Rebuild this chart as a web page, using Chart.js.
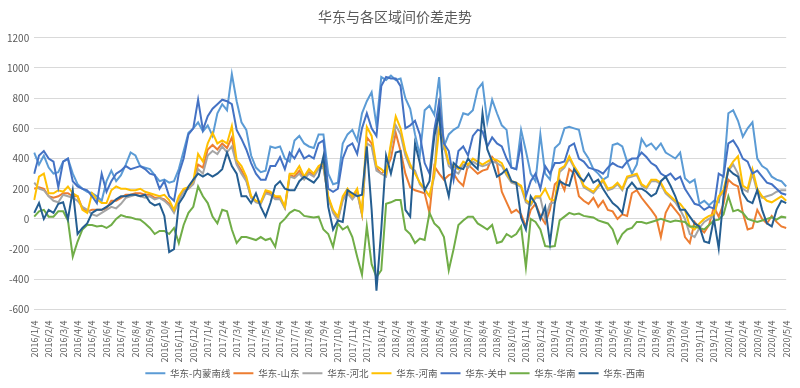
<!DOCTYPE html>
<html>
<head>
<meta charset="utf-8">
<script src="https://cdn.jsdelivr.net/npm/chart.js@4.4.1/dist/chart.umd.min.js"></script>
<style>
  body { margin: 0; background: #fff; }
  #wrap { width: 800px; height: 388px; }
</style>
</head>
<body>
<div id="wrap"><canvas id="spreadChart" width="800" height="388"></canvas></div>
<script>
// tick labels (one per month); the data has three readings per month (4th, 14th, 24th)
var monthLabels = ['2016/1/4','2016/2/4','2016/3/4','2016/4/4','2016/5/4','2016/6/4','2016/7/4','2016/8/4','2016/9/4','2016/10/4','2016/11/4','2016/12/4',
  '2017/1/4','2017/2/4','2017/3/4','2017/4/4','2017/5/4','2017/6/4','2017/7/4','2017/8/4','2017/9/4','2017/10/4','2017/11/4','2017/12/4',
  '2018/1/4','2018/2/4','2018/3/4','2018/4/4','2018/5/4','2018/6/4','2018/7/4','2018/8/4','2018/9/4','2018/10/4','2018/11/4','2018/12/4',
  '2019/1/4','2019/2/4','2019/3/4','2019/4/4','2019/5/4','2019/6/4','2019/7/4','2019/8/4','2019/9/4','2019/10/4','2019/11/4','2019/12/4',
  '2020/1/4','2020/2/4','2020/3/4','2020/4/4','2020/5/4'];
var days = ['4', '14', '24'];

var seriesNames = ['华东-内蒙南线', '华东-山东', '华东-河北', '华东-河南', '华东-关中', '华东-华南', '华东-西南'];

var neimengNanxian = [440,360,420, 340,300,310, 380,400,300, 230,200,180, 170,150,120, 250,320,250, 290,360,440, 420,350,340, 330,290,250, 260,240,250, 330,450,570, 600,640,580,
  620,550,700, 760,720,960, 780,640,590, 420,340,310, 320,480,470, 480,400,380, 520,550,500, 480,470,560, 560,300,230, 240,500,560, 590,520,700, 780,840,620,
  940,920,950, 920,930,800, 730,560,420, 720,750,690, 940,480,560, 590,610,700, 690,720,860, 900,640,790, 700,620,590, 340,330,590, 450,300,250, 560,300,260,
  470,500,600, 610,600,590, 450,400,330, 300,260,280, 490,500,480, 380,300,360, 530,480,500, 460,500,440, 420,400,440, 270,240,260, 100,120,90, 120,110,300,
  700,720,650, 545,600,640, 400,350,330, 280,260,250, 215];

var shandong = [200,210,200, 150,140,150, 170,170,150, 150,70,50, 60,60,60, 70,120,120, 140,160,160, 170,170,160, 160,140,140, 130,100,50, 130,190,200, 240,360,340,
  460,490,460, 500,470,540, 370,320,260, 140,115,105, 180,170,140, 140,75,290, 280,320,270, 310,290,340, 350,140,50, 0,130,180, 140,180,30, 540,500,340,
  300,330,400, 570,450,300, 210,190,180, 170,40,350, 300,260,290, 300,250,220, 360,330,300, 320,330,410, 370,180,110, 40,60,30, -50,60,100, 20,-30,60,
  230,260,190, 330,300,150, 120,100,140, 80,120,60, 50,0,30, 20,170,190, 140,100,60, 15,-120,40, 100,60,20, -120,-160,-20, -60,-90,-40, 80,15,100,
  260,230,215, 40,-70,-60, 60,0,-30, 20,-20,-50, -60];

var hebei = [240,200,190, 150,120,110, 160,150,140, 120,80,60, 30,20,40, 60,80,70, 100,140,150, 160,150,140, 150,130,140, 120,90,40, 120,180,200, 230,330,300,
  420,450,430, 480,440,480, 360,300,250, 140,110,100, 170,160,130, 130,70,280, 270,300,260, 300,280,330, 340,140,40, -10,120,170, 130,170,30, 500,480,320,
  300,280,480, 620,560,420, 340,320,230, 190,150,280, 800,480,350, 320,300,360, 340,380,360, 350,360,380, 370,350,290, 240,230,210, 110,90,140, 140,0,100,
  110,310,340, 400,340,290, 210,190,170, 210,250,190, 200,230,190, 270,280,290, 220,200,250, 250,230,170, 140,110,60, 0,-100,-120, -60,-20,0, 20,140,180,
  320,360,300, 200,180,300, 180,140,150, 160,180,190, 190];

var henan = [125,280,300, 170,170,190, 180,215,170, 150,60,40, 170,130,105, 105,190,215, 200,200,190, 190,200,180, 170,160,150, 160,125,60, 150,200,210, 250,430,380,
  500,570,500, 520,500,615, 390,350,280, 150,120,110, 190,180,150, 150,80,300, 300,350,280, 330,300,350, 370,150,60, 15,150,200, 150,200,40, 610,550,350,
  330,300,500, 680,600,450, 360,300,240, 200,150,300, 590,500,370, 350,330,380, 360,400,380, 360,380,400, 390,370,300, 250,240,220, 125,100,150, 150,200,130,
  120,330,350, 415,350,300, 220,200,180, 220,260,200, 210,240,200, 280,290,300, 230,210,260, 260,240,180, 150,120,100, 60,-50,-70, -30,0,20, 30,150,190,
  330,380,415, 220,200,330, 200,150,120, 110,130,150, 120];

var guanzhong = [300,420,450, 400,380,210, 380,400,250, 215,200,190, 150,105,300, 180,250,300, 320,350,330, 340,350,330, 300,290,200, 250,150,120, 300,400,560, 600,790,590,
  680,730,760, 790,780,760, 590,530,460, 370,300,260, 260,350,350, 410,330,440, 400,460,400, 420,400,500, 520,200,180, 200,400,480, 500,430,600, 700,600,550,
  880,940,930, 930,880,600, 620,650,560, 370,300,590, 770,500,450, 260,450,480, 420,550,590, 580,480,540, 500,480,400, 340,330,500, 150,250,300, 200,350,300,
  370,370,380, 480,500,400, 380,340,330, 320,300,340, 370,350,340, 380,400,400, 440,410,370, 350,300,280, 300,260,280, 200,150,100, 90,60,80, 70,300,280,
  500,520,470, 400,380,300, 320,280,240, 230,200,170, 160];

var huanan = [15,50,60, 15,15,50, 50,-10,-250, -150,-70,-40, -40,-50,-45, -60,-40,0, 25,15,10, 0,-5,-30, -60,-100,-80, -80,-100,-60, -160,-40,40, 80,215,150,
  105,15,-30, 60,50,-70, -160,-120,-120, -130,-140,-120, -140,-130,-185, -30,0,40, 60,50,20, 15,10,15, -70,-100,-185, -30,-70,-50, -120,-250,-370, -50,-300,-385,
  -340,100,110, 125,125,-70, -100,-160,-130, -140,40,-30, -60,-120,-340, -200,-40,-10, 15,15,-30, -50,-70,-40, -160,-150,-100, -120,-100,-50, -320,0,-20, -70,-180,-185,
  -180,-10,15, 40,30,35, 20,15,10, -10,-20,-30, -70,-160,-100, -70,-60,-20, -20,-30,-20, -10,0,-10, -20,-10,-15, -20,-50,-50, -60,-70,-40, -10,-5,30,
  150,50,60, 40,0,-10, -20,-10,0, 10,-5,15, 10];

var xinan = [40,105,0, 60,40,100, 110,0,190, -100,-60,-30, 40,60,60, 80,100,130, 150,150,160, 160,150,160, 110,90,100, 20,-220,-200, 100,150,215, 260,300,280,
  300,280,300, 330,440,350, 300,150,150, 105,170,80, 15,105,220, 250,200,190, 190,250,280, 260,240,280, 415,80,-70, -10,-20,190, 170,150,160, 480,60,-475,
  -70,420,300, 440,450,60, 15,500,370, 190,250,545, 700,280,150, 370,340,330, 400,360,330, 700,460,380, 280,300,330, 250,240,10, -70,150,100, 0,80,-160,
  105,250,230, 220,330,280, 250,300,240, 260,200,150, 105,80,40, 200,240,200, 200,180,150, 170,250,280, 220,150,60, 60,15,-30, -50,-150,-160, 0,-195,150,
  330,300,280, 170,120,105, 190,60,-30, -50,60,120, 105];

var seriesColors = ['#5B9BD5', '#ED7D31', '#A5A5A5', '#FFC000', '#4472C4', '#70AD47', '#255E91'];
var seriesData = [neimengNanxian, shandong, hebei, henan, guanzhong, huanan, xinan];

// full category list: 2016/1/4, 2016/1/14, 2016/1/24, ...
var dates = [];
monthLabels.forEach(function(lbl, i) {
  days.forEach(function(d, k) {
    if (i === monthLabels.length - 1 && k > 0) return;
    dates.push(lbl.replace(/\/4$/, '/' + d));
  });
});

var fontFamily = '"Noto Sans CJK SC", "Liberation Sans", sans-serif';
var textColor = '#595959';

var datasets = seriesNames.map(function(name, i) {
  return {
    label: name,
    data: seriesData[i],
    borderColor: seriesColors[i],
    backgroundColor: seriesColors[i],
    borderWidth: 2,
    pointRadius: 0,
    tension: 0,
    fill: false,
    order: seriesNames.length - i   // later series drawn on top, like Excel
  };
});

var ctx = document.getElementById('spreadChart').getContext('2d');
var spreadChart = new Chart(ctx, {
  type: 'line',
  data: { labels: dates, datasets: datasets },
  options: {
    responsive: false,
    animation: false,
    devicePixelRatio: 1,
    layout: { padding: { left: 2, right: 12, top: 0, bottom: 0 } },
    plugins: {
      title: {
        display: true,
        text: '华东与各区域间价差走势',
        color: textColor,
        font: { family: fontFamily, size: 14, weight: 'normal' },
        padding: { top: 8, bottom: 13 }
      },
      legend: {
        position: 'bottom',
        labels: {
          sort: function(a, b) { return a.datasetIndex - b.datasetIndex; },
          usePointStyle: true,
          pointStyle: 'line',
          pointStyleWidth: 20,
          boxHeight: 10,
          padding: 3,
          color: textColor,
          font: { family: fontFamily, size: 9.5 }
        }
      },
      tooltip: { enabled: false }
    },
    scales: {
      x: {
        type: 'category',
        grid: { display: false },
        border: { display: false },
        ticks: {
          autoSkip: false,
          maxRotation: 90,
          minRotation: 90,
          padding: 3,
          color: textColor,
          font: { family: fontFamily, size: 9 },
          callback: function(value, index) {
            return index % 3 === 0 ? this.getLabelForValue(value) : '';
          }
        }
      },
      y: {
        min: -600,
        max: 1200,
        grid: { color: '#d9d9d9', drawTicks: false },
        border: { display: false },
        ticks: {
          stepSize: 200,
          padding: 5,
          color: textColor,
          font: { family: fontFamily, size: 10 },
          callback: function(value) { return String(value); }
        }
      }
    }
  }
});
</script>
</body>
</html>
